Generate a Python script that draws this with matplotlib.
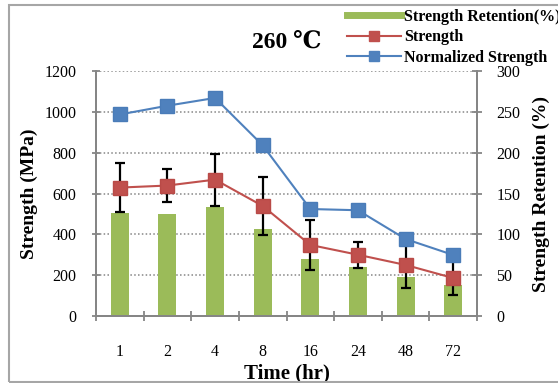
#!/usr/bin/env python3

import matplotlib
matplotlib.use("Agg")
import matplotlib.pyplot as plt
from matplotlib.lines import Line2D
from matplotlib.patches import Rectangle

# data for the 260 C aging run
times = ["1", "2", "4", "8", "16", "24", "48", "72"]
strength = [629, 639, 668, 539, 348, 300, 250, 186]
strength_err = [118, 80, 127, 142, 121, 63, 111, 85]
normalized = [987, 1030, 1068, 836, 524, 518, 377, 299]
retention = [126, 125, 133, 106, 70, 60, 48, 38]

green = "#9BBB59"
red = "#C0504D"
blue = "#4F81BD"
gray = "#868686"

plt.rcParams['font.family'] = ['Liberation Serif', 'DejaVu Serif']

fig = plt.figure(figsize=(5.58, 3.83), dpi=100)
ax = fig.add_axes([96 / 558, 1 - 316 / 383, 381 / 558, 245 / 383])
ax2 = ax.twinx()

# bars sit on the right axis, lines drawn on top from the left axis
ax.set_zorder(ax2.get_zorder() + 1)
ax.patch.set_visible(False)

x = list(range(len(times)))
ax2.bar(x, retention, width=0.38, color=green, zorder=2)
ax2.set_ylim(0, 300)
ax2.set_yticks(range(0, 301, 50))
ax2.yaxis.grid(True, color=gray, linestyle=(0, (1, 1.5)), linewidth=1.1, zorder=0)
ax2.set_axisbelow(True)

ax.errorbar(x, strength, yerr=strength_err, fmt='none', ecolor='black',
            elinewidth=1.6, capsize=3.6, capthick=1.6, zorder=3)
ax.plot(x, strength, color=red, lw=1.5, marker='s', markersize=9.5,
        markerfacecolor=red, markeredgecolor="#B94A47", zorder=4)
ax.plot(x, normalized, color=blue, lw=1.5, marker='s', markersize=9.5,
        markerfacecolor=blue, markeredgecolor="#4A7CB8", zorder=4)

ax.set_ylim(0, 1200)
ax.set_yticks(range(0, 1201, 200))
ax.set_xlim(-0.5, len(times) - 0.5)
ax.set_xticks([i - 0.5 for i in range(len(times) + 1)])
ax.set_xticklabels([])
ax.set_xticks(x, minor=True)
ax.set_xticklabels(times, minor=True)
ax.tick_params(axis='x', which='minor', length=0, pad=20, labelsize=11.5)
ax.tick_params(axis='x', which='major', direction='inout', length=7, color=gray, width=1.3)
ax.tick_params(axis='y', direction='inout', length=6, color=gray, width=1.3, labelsize=11.5, pad=11)
ax2.tick_params(axis='y', direction='inout', length=7, color=gray, width=1.3, labelsize=11.5, pad=10.5)

for a in (ax, ax2):
    a.spines['top'].set_visible(False)
    for s in ('left', 'right', 'bottom'):
        a.spines[s].set_color(gray)
        a.spines[s].set_linewidth(1.4)

ax.set_ylabel("Strength (MPa)", fontsize=14, fontweight='bold', labelpad=5)
ax2.set_ylabel("Strength Retention (%)", fontsize=14, fontweight='bold', labelpad=9)
ax.set_xlabel("Time (hr)", fontsize=15, fontweight='bold', labelpad=3)

fig.text(287 / 558, 1 - 42 / 383, "260 \u2103", ha='center', va='center',
         fontsize=17, fontweight='bold')

handles = [
    Line2D([], [], color=green, lw=5),
    Line2D([], [], color=red, lw=1.5, marker='s', markersize=7),
    Line2D([], [], color=blue, lw=1.5, marker='s', markersize=7),
]
labels = ["Strength Retention(%)", "Strength", "Normalized Strength"]
fig.legend(handles, labels, loc='upper left', bbox_to_anchor=(347 / 558, 1 - 9 / 383),
           frameon=False, borderpad=0, borderaxespad=0, handlelength=3.35,
           handletextpad=0.25, labelspacing=0.27, prop={'weight': 'bold', 'size': 11.5})

# outer chart frame
fig.patches.append(Rectangle((9 / 558, 1 / 383), 1.2, 1 - 6 / 383, transform=fig.transFigure,
                             fill=False, edgecolor="#A6A6A6", lw=1.5))

fig.savefig("out.png", dpi=100)
